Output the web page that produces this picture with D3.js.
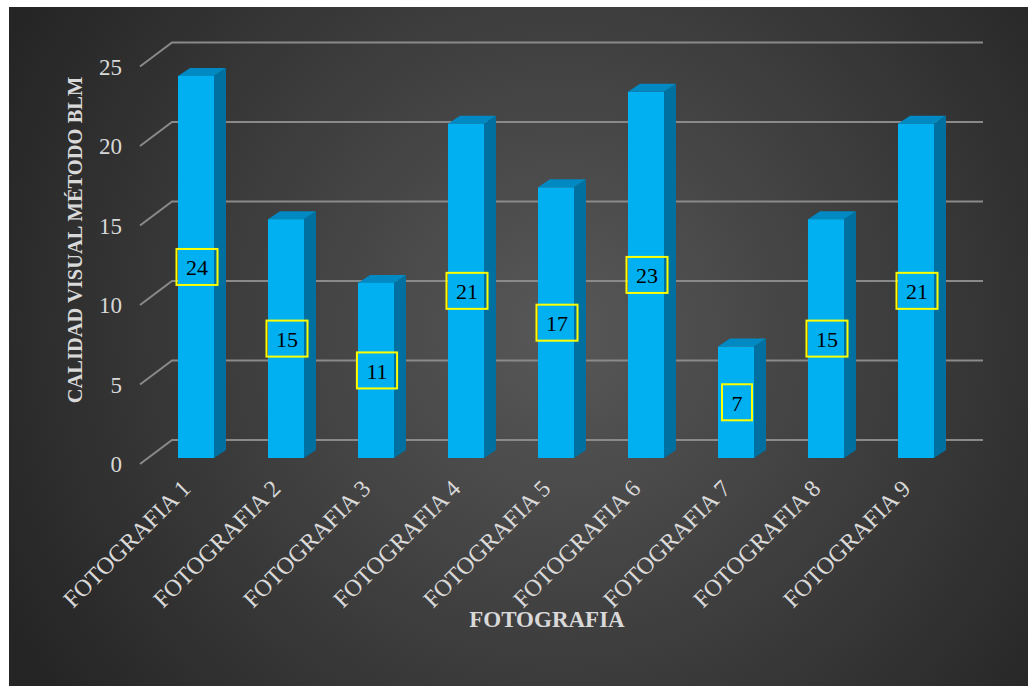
<!DOCTYPE html>
<html>
<head>
<meta charset="utf-8">
<script src="https://cdn.jsdelivr.net/npm/d3@7"></script>
<style>
  html, body { margin: 0; padding: 0; background: #ffffff; }
  svg { display: block; }
</style>
</head>
<body>
<svg id="chart" width="1028" height="686"></svg>
<script>
// Chart data
const categories = ["FOTOGRAFIA 1", "FOTOGRAFIA 2", "FOTOGRAFIA 3", "FOTOGRAFIA 4", "FOTOGRAFIA 5",
                    "FOTOGRAFIA 6", "FOTOGRAFIA 7", "FOTOGRAFIA 8", "FOTOGRAFIA 9"];
const values = [24, 15, 11, 21, 17, 23, 7, 15, 21];
const yTicks = [0, 5, 10, 15, 20, 25];
const yTitle = "CALIDAD VISUAL MÉTODO BLM";
const xTitle = "FOTOGRAFIA";

const svg = d3.select("#chart");
const W = 1028, H = 686;
const serif = "'Liberation Serif', 'Times New Roman', serif";

// Background panel with a soft radial gradient
const defs = svg.append("defs");
const grad = defs.append("radialGradient")
  .attr("id", "bg").attr("gradientUnits", "userSpaceOnUse")
  .attr("cx", 560).attr("cy", 330).attr("r", 620);
grad.append("stop").attr("offset", "0%").attr("stop-color", "#585858");
grad.append("stop").attr("offset", "100%").attr("stop-color", "#252525");
svg.append("rect").attr("x", 9).attr("y", 7).attr("width", W - 9).attr("height", H - 7)
  .attr("fill", "url(#bg)");

// Oblique 3D geometry: front wall, back wall and the plane of the bars
const depth = { dx: 32, dy: -24 };     // floor depth
const barDepth = { dx: 12, dy: -8 };   // thickness of each column
const frontX0 = 140, frontX1 = 950, frontY0 = 464;
const yMax = 25;
const unit = 15.9;

const yFront = d3.scaleLinear().domain([0, yMax]).range([frontY0, frontY0 - yMax * unit]);
const yBack = d3.scaleLinear().domain([0, yMax]).range([frontY0 + depth.dy, frontY0 + depth.dy - yMax * unit]);
const yBar = d3.scaleLinear().domain([0, yMax]).range([458, 458 - yMax * 15.92]);

const x = d3.scaleBand().domain(categories).range([frontX0 + 11, frontX1 + 11]).paddingInner(0.6).paddingOuter(0.3);

// Gridlines on side wall and back wall
const grid = svg.append("g").attr("stroke", "#8a8a8a").attr("stroke-width", 2).attr("fill", "none");
yTicks.forEach(t => {
  grid.append("path")
    .attr("d", d3.line()([[frontX0, yFront(t)], [frontX0 + depth.dx, yBack(t)], [frontX1 + depth.dx + 1, yBack(t)]]));
});

// Tick labels
svg.append("g").selectAll("text").data(yTicks).join("text")
  .attr("x", 122).attr("y", d => yFront(d) + 3)
  .attr("text-anchor", "end").attr("dominant-baseline", "middle")
  .attr("font-family", serif)
  .attr("font-size", 23).attr("fill", "#d9d9d9")
  .text(d => d);

// Columns: front, top and side faces
const bars = svg.append("g").selectAll("g").data(values).join("g");
bars.each(function(v, i) {
  const g = d3.select(this);
  const x0 = x(categories[i]), x1 = x0 + x.bandwidth();
  const yt = yBar(v), yb = yBar(0);
  g.append("path").attr("fill", "#0070a0")
    .attr("d", d3.line()([[x1, yb], [x1, yt], [x1 + barDepth.dx, yt + barDepth.dy], [x1 + barDepth.dx, yb + barDepth.dy]]) + "Z");
  g.append("path").attr("fill", "#0089c2")
    .attr("d", d3.line()([[x0, yt], [x1, yt], [x1 + barDepth.dx, yt + barDepth.dy], [x0 + barDepth.dx, yt + barDepth.dy]]) + "Z");
  g.append("rect").attr("x", x0).attr("y", yt).attr("width", x1 - x0).attr("height", yb - yt)
    .attr("fill", "#00b0f0");
});

// Value labels in yellow-bordered boxes
const labels = svg.append("g").selectAll("g").data(values).join("g")
  .attr("transform", (v, i) => `translate(${x(categories[i]) + x.bandwidth() / 2 + 1},${yBar(v / 2)})`);
labels.each(function(v) {
  const g = d3.select(this);
  const t = g.append("text")
    .attr("text-anchor", "middle").attr("dominant-baseline", "central")
    .attr("y", 1)
    .attr("font-family", serif)
    .attr("font-size", 22).attr("fill", "#000000")
    .text(v);
  const w = t.node().getComputedTextLength() + 19;
  g.insert("rect", "text").attr("x", -w / 2).attr("y", -18).attr("width", w).attr("height", 36)
    .attr("fill", "none").attr("stroke", "#ffff00").attr("stroke-width", 2);
});

// Category labels, rotated
svg.append("g").selectAll("text").data(categories).join("text")
  .attr("transform", d => `translate(${x(d) + x.bandwidth() / 2 - 4},${490}) rotate(-45)`)
  .attr("text-anchor", "end")
  .attr("font-family", serif)
  .attr("font-size", 24).attr("fill", "#d9d9d9")
  .text(d => d);

// Axis titles
svg.append("text")
  .attr("transform", "translate(82,240) rotate(-90)")
  .attr("text-anchor", "middle")
  .attr("font-family", serif)
  .attr("font-weight", "bold").attr("font-size", 20.5).attr("fill", "#d9d9d9")
  .text(yTitle);

svg.append("text")
  .attr("x", 547).attr("y", 627)
  .attr("text-anchor", "middle")
  .attr("font-family", serif)
  .attr("font-weight", "bold").attr("font-size", 23).attr("fill", "#d9d9d9")
  .text(xTitle);
</script>
</body>
</html>
